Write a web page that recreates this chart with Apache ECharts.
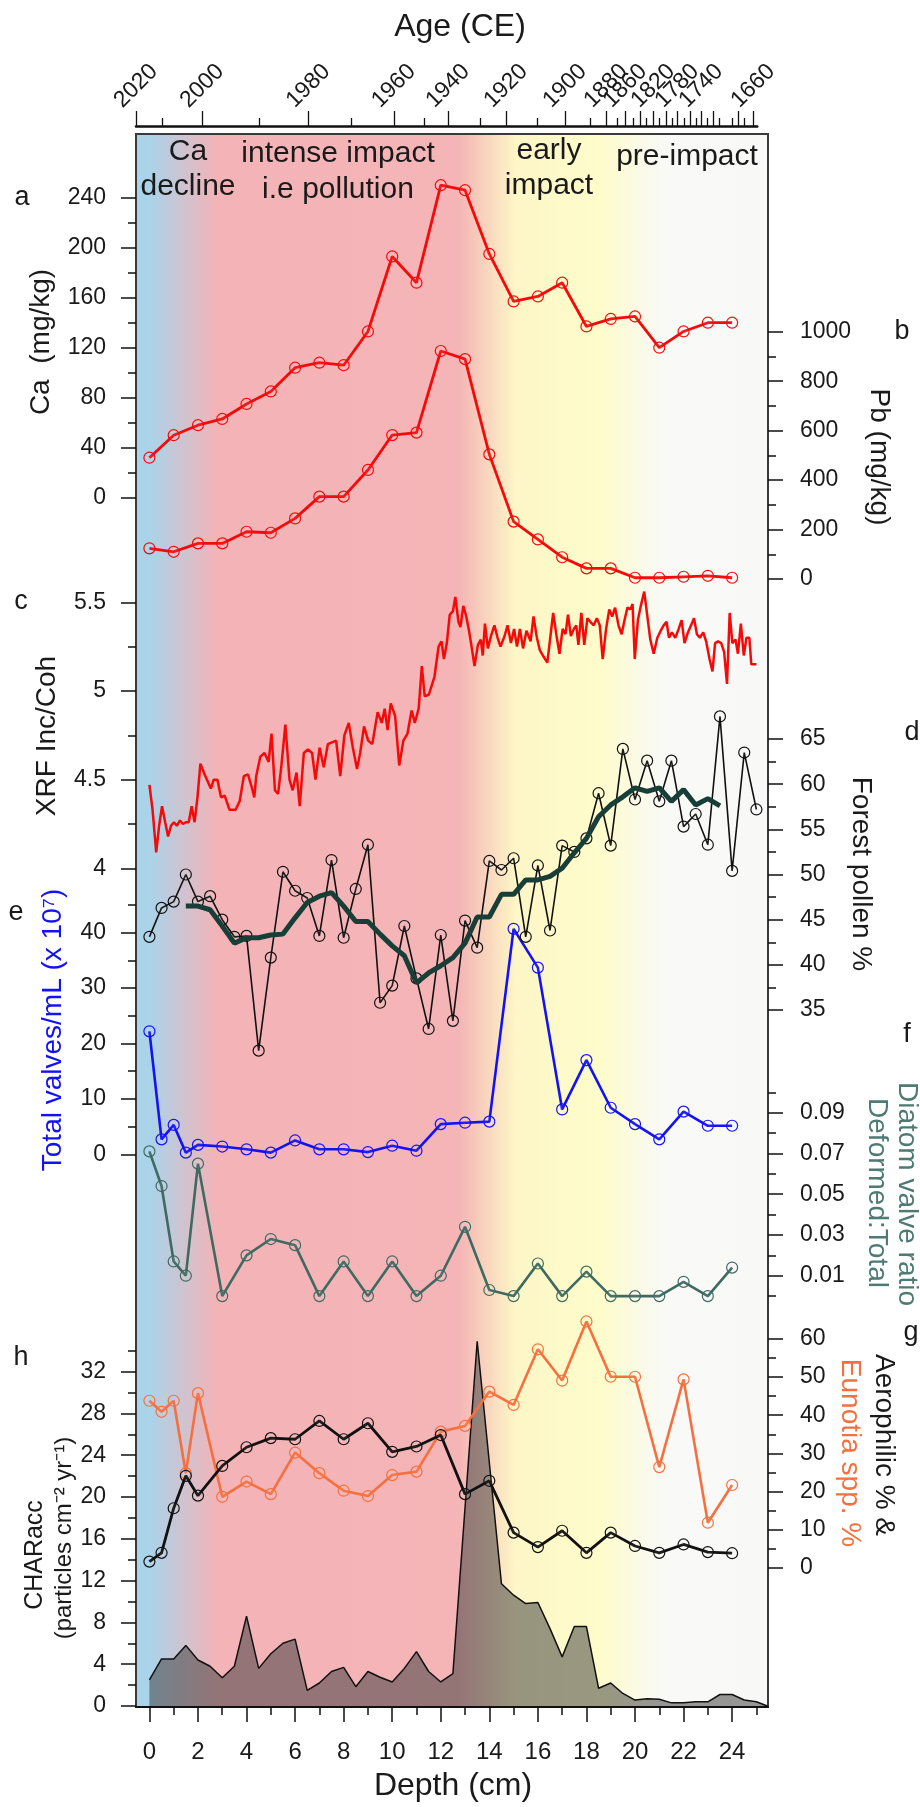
<!DOCTYPE html>
<html><head><meta charset="utf-8">
<script src="https://cdn.jsdelivr.net/npm/echarts@6/dist/echarts.min.js"></script>
<style>html,body{margin:0;padding:0;background:#fff}#c{width:920px;height:1807px}</style>
</head><body><div id="c"></div>
<script>
// ---------------- DATA ----------------
const depthInt = [0,1,2,3,4,5,6,7,8,9,10,11,12,13,14,15,16,17,18,19,20,21,22,23,24];
const caValues = [32,50,58,63,75,85,104,108,106,133,193,172,250,246,195,157,161,172,137,143,145,120,133,140,140];
const pbValues = [124,110,144,144,191,187,245,333,333,441,582,592,922,889,504,232,160,88,43,43,5,5,9,13,5];

const xrfDepth = [0.0,0.13,0.28,0.4,0.52,0.65,0.77,0.89,1.01,1.13,1.26,1.38,1.5,1.62,1.74,1.86,1.98,2.1,2.27,2.53,2.65,2.8,2.95,3.1,3.3,3.55,3.72,3.89,4.06,4.23,4.32,4.4,4.57,4.74,4.91,5.03,5.17,5.3,5.43,5.6,5.77,5.9,6.06,6.19,6.36,6.53,6.7,6.84,7.01,7.18,7.35,7.52,7.69,7.86,8.03,8.21,8.38,8.55,8.68,8.84,9.01,9.18,9.4,9.57,9.69,9.81,9.94,10.12,10.29,10.46,10.63,10.8,10.93,11.09,11.22,11.34,11.51,11.74,11.91,12.03,12.13,12.25,12.37,12.5,12.6,12.73,12.81,12.93,13.05,13.15,13.27,13.39,13.53,13.65,13.73,13.82,13.94,14.07,14.21,14.34,14.46,14.63,14.75,14.89,15.02,15.14,15.26,15.39,15.53,15.7,15.82,15.96,16.08,16.25,16.39,16.51,16.63,16.77,16.89,17.02,17.14,17.24,17.36,17.48,17.58,17.67,17.79,17.91,18.04,18.16,18.3,18.43,18.55,18.67,18.81,18.94,19.06,19.18,19.32,19.45,19.57,19.69,19.81,19.9,19.99,20.12,20.24,20.38,20.5,20.63,20.77,20.92,21.06,21.18,21.3,21.4,21.52,21.66,21.8,21.92,22.04,22.18,22.31,22.43,22.55,22.67,22.81,22.93,23.07,23.19,23.3,23.42,23.55,23.67,23.79,23.9,24.01,24.14,24.24,24.36,24.48,24.59,24.71,24.79,25.0];
const xrfValue = [4.47,4.33,4.09,4.24,4.35,4.26,4.18,4.24,4.26,4.24,4.27,4.25,4.26,4.26,4.35,4.26,4.40,4.59,4.53,4.45,4.50,4.50,4.40,4.41,4.33,4.33,4.38,4.52,4.53,4.45,4.40,4.52,4.63,4.65,4.60,4.76,4.44,4.42,4.57,4.81,4.50,4.44,4.54,4.35,4.65,4.67,4.65,4.50,4.68,4.57,4.70,4.71,4.72,4.52,4.75,4.82,4.68,4.56,4.65,4.80,4.72,4.70,4.88,4.82,4.90,4.78,4.93,4.86,4.58,4.72,4.76,4.89,4.82,4.90,5.14,4.97,4.98,5.08,5.25,5.28,5.18,5.27,5.43,5.45,5.53,5.39,5.36,5.48,5.42,5.35,5.25,5.14,5.26,5.29,5.20,5.38,5.24,5.31,5.37,5.30,5.25,5.31,5.37,5.27,5.35,5.25,5.35,5.24,5.34,5.28,5.42,5.30,5.23,5.19,5.16,5.30,5.44,5.31,5.21,5.35,5.32,5.43,5.31,5.35,5.37,5.26,5.44,5.26,5.41,5.39,5.37,5.41,5.37,5.18,5.35,5.46,5.42,5.47,5.37,5.32,5.40,5.47,5.46,5.49,5.18,5.40,5.48,5.56,5.43,5.29,5.21,5.30,5.34,5.37,5.39,5.30,5.33,5.30,5.35,5.40,5.27,5.33,5.37,5.41,5.32,5.30,5.33,5.28,5.18,5.11,5.27,5.28,5.27,5.22,5.04,5.44,5.27,5.29,5.21,5.38,5.20,5.30,5.30,5.15,5.15];

const pollenDepth = [0,0.5,1,1.5,2,2.5,3,3.5,4,4.5,5,5.5,6,6.5,7,7.5,8,8.5,9,9.5,10,10.5,11,11.5,12,12.5,13,13.5,14,14.5,15,15.5,16,16.5,17,17.5,18,18.5,19,19.5,20,20.5,21,21.5,22,22.5,23,23.5,24,24.5,25];
const forestPollen = [43.1,46.3,47.0,50.0,47.0,47.6,45.0,43.1,43.2,30.5,40.8,50.3,48.2,47.4,43.2,51.6,43.0,48.4,53.3,35.8,37.7,44.3,38.5,32.9,43.3,33.8,44.9,41.9,51.5,50.5,51.8,43.1,51.0,43.8,53.2,52.5,54.0,59.0,53.2,63.9,58.3,62.6,58.1,62.6,55.3,56.7,53.3,67.5,50.4,63.5,57.2];
const smoothDepth = [1.5,2,2.5,3,3.5,4,4.5,5,5.5,6,6.5,7,7.5,8,8.5,9,9.5,10,10.5,11,11.5,12,12.5,13,13.5,14,14.5,15,15.5,16,16.5,17,17.5,18,18.5,19,19.5,20,20.5,21,21.5,22,22.5,23,23.5];
const forestPollenSmooth = [46.5,46.5,46.1,44.3,42.4,43.0,43.0,43.3,43.4,45.2,46.9,47.6,48.0,46.5,44.8,44.8,43.4,42.1,41.0,38.0,39.1,39.9,40.8,42.4,45.3,45.3,47.8,47.8,49.4,49.4,49.8,50.7,52.4,54.0,56.4,57.7,58.6,59.6,59.2,59.6,58.1,59.4,57.7,58.4,57.6];

const diatomDepth = [0,0.5,1,1.5,2,3,4,5,6,7,8,9,10,11,12,13,14,15,16,17,18,19,20,21,22,23,24];
const totalValves = [22.2,2.7,5.3,0.3,1.7,1.4,0.9,0.3,2.5,0.9,0.9,0.4,1.55,0.65,5.45,5.7,5.9,40.7,33.7,8.1,17.0,8.4,5.45,2.7,7.7,5.15,5.15];
const deformedRatio = [0.071,0.054,0.017,0.010,0.065,0.000,0.020,0.028,0.025,0.000,0.017,0.000,0.017,0.000,0.010,0.034,0.003,0.000,0.016,0.000,0.012,0.000,0.000,0.000,0.007,0.000,0.014];
const aerophilic = [1.6,3.9,15.6,24.1,18.9,26.7,31.6,34.0,33.7,38.5,33.7,37.9,30.4,31.8,34.8,19.3,22.8,9.2,5.4,9.7,3.9,9.2,5.7,3.9,6.1,4.1,3.8];
const eunotia = [43.8,40.9,43.8,24.8,45.8,18.6,22.6,19.3,30.2,24.8,20.2,18.8,24.3,25.2,35.7,37.2,46.2,42.7,57.3,49.1,64.6,50.1,50.1,26.4,49.4,11.8,21.7];

const charDepth = [0,0.5,1,1.5,2,2.5,3,3.5,4,4.5,5,5.5,6,6.5,7,7.5,8,8.5,9,9.5,10,10.5,11,11.5,12,12.5,13.5,14.5,15,15.5,16,16.5,17,17.5,18,18.5,19,19.5,20,20.5,21,21.5,22,22.5,23,23.5,24,24.5,25,25.45];
const charAcc = [2.5,4.5,4.5,5.8,4.4,3.8,2.7,3.8,8.6,3.6,5.0,6.0,6.4,1.5,2.2,3.3,3.7,1.85,3.3,2.75,2.3,3.6,5.2,3.3,2.3,3.1,34.9,11.7,10.6,9.8,9.9,7.4,4.7,7.6,7.6,1.7,2.2,1.2,0.57,0.7,0.65,0.3,0.3,0.4,0.4,1.1,1.1,0.57,0.4,0];

// Age model (top axis)
const ageYears = [2020,2010,2000,1990,1980,1970,1960,1950,1940,1930,1920,1910,1900,1890,1880,1870,1860,1850,1840,1830,1820,1810,1800,1790,1780,1770,1760,1750,1740,1730,1720,1710,1700,1690,1680,1670,1660];
const ageDepths = [-0.552,0.53,2.18,4.53,6.55,8.33,10.07,11.33,12.30,13.62,14.69,15.98,17.12,18.15,18.81,19.27,19.60,19.93,20.21,20.45,20.75,21.00,21.28,21.52,21.74,22.02,22.27,22.51,22.73,22.98,23.22,23.47,23.72,23.99,24.24,24.52,24.87];
const ageLabelYears = [2020,2000,1980,1960,1940,1920,1900,1880,1860,1820,1780,1740,1700,1660];

// Tick labels
const depthTickLabels = [0,2,4,6,8,10,12,14,16,18,20,22,24];
const depthMinorTicks = [1,3,5,7,9,11,13,15,17,19,21,23,25];
const caTicks = [0,40,80,120,160,200,240];
const pbTicks = [0,200,400,600,800,1000];
const xrfTicks = [4,4.5,5,5.5];
const pollenTicks = [35,40,45,50,55,60,65];
const valvesTicks = [0,10,20,30,40];
const ratioTicks = [0.01,0.03,0.05,0.07,0.09];
const aeroTicks = [0,10,20,30,40,50,60];
const charTicks = [0,4,8,12,16,20,24,28,32];

// ---------------- CHART ----------------
const FONT = '"Liberation Sans", Arial, Helvetica, sans-serif';
const X_MIN = -0.552, X_MAX = 25.478;
const PL = 136, PW = 632;
const TXT = '#1a1a1a';

const grids = [], xAxes = [], yAxes = [], series = [];
function addGrid(o){ grids.push(Object.assign({left:PL, width:PW, containLabel:false}, o)); return grids.length-1; }

// main box grid
const g0 = addGrid({top:134, height:1573, show:true, borderColor:'#3a3a3a', borderWidth:2,
  backgroundColor:{type:'linear',x:0,y:0,x2:1,y2:0,colorStops:[
    {offset:0,color:'#a8d4eb'},{offset:0.025,color:'#abd3e9'},{offset:0.13,color:'#f4b3b6'},
    {offset:0.51,color:'#f5b4b6'},{offset:0.60,color:'#fdf6c6'},{offset:0.735,color:'#fefccb'},
    {offset:0.83,color:'#f9f9f6'},{offset:1,color:'#f8f8f8'}]}});
xAxes.push({type:'value', gridIndex:g0, position:'bottom', min:X_MIN, max:X_MAX,
  splitLine:{show:false}, axisLine:{show:true,onZero:false,lineStyle:{color:'#111',width:2}},
  axisTick:{show:true, customValues:depthTickLabels, length:15, lineStyle:{color:'#111',width:1.5}},
  axisLabel:{show:true, customValues:depthTickLabels, margin:33, fontSize:24, color:TXT, fontFamily:FONT}});
xAxes.push({type:'value', gridIndex:g0, position:'bottom', min:X_MIN, max:X_MAX,
  splitLine:{show:false}, axisLine:{show:false,onZero:false},
  axisTick:{show:true, customValues:depthMinorTicks, length:8, lineStyle:{color:'#111',width:1.5}},
  axisLabel:{show:false}});
yAxes.push({type:'value', gridIndex:g0, min:0, max:1, show:false});

// top age axis
const gTop = addGrid({top:126, height:8, left:136, width:621.3});
const ageMajor = ageDepths.filter((d,i)=>ageYears[i]%20===0);
const ageMinor = ageDepths.filter((d,i)=>ageYears[i]%20!==0);
const ageLabelDepths = ageLabelYears.map(y=>ageDepths[ageYears.indexOf(y)]);
xAxes.push({type:'value', gridIndex:gTop, position:'top', min:-0.552, max:25.04,
  splitLine:{show:false}, axisLine:{show:true,onZero:false,lineStyle:{color:'#111',width:2.5}},
  axisTick:{show:true, customValues:ageMajor, length:15, lineStyle:{color:'#111',width:1.3}},
  axisLabel:{show:true, customValues:ageLabelDepths, rotate:-45, align:'center', verticalAlign:'middle',
    margin:40, fontSize:23, color:TXT, fontFamily:FONT, showMinLabel:true, showMaxLabel:true, hideOverlap:false,
    formatter:function(v){let b=0,bd=1e9;ageLabelDepths.forEach((d,i)=>{const e=Math.abs(d-v);if(e<bd){bd=e;b=i;}});return String(ageLabelYears[b]);}}});
xAxes.push({type:'value', gridIndex:gTop, position:'top', min:-0.552, max:25.04,
  splitLine:{show:false}, axisLine:{show:false,onZero:false},
  axisTick:{show:true, customValues:ageMinor, length:8, lineStyle:{color:'#111',width:1.3}}, axisLabel:{show:false}});
yAxes.push({type:'value', gridIndex:gTop, min:0, max:1, show:false});

function addPanel(p){
  const gi = addGrid({top:p.top, height:p.height});
  xAxes.push({type:'value', gridIndex:gi, min:X_MIN, max:X_MAX, show:false});
  const xi = xAxes.length-1;
  const common = {type:'value', gridIndex:gi, position:p.pos, min:p.min, max:p.max,
    splitLine:{show:false}, axisLine:{show:false,onZero:false}};
  yAxes.push(Object.assign({}, common, {
    axisTick:{show:true, customValues:p.majors, length:15, lineStyle:{color:'#111',width:1.5}},
    axisLabel:{show:true, customValues:p.majors, margin:p.pos==='left'?30:32, fontSize:23, color:TXT, fontFamily:FONT,
      showMinLabel:true, showMaxLabel:true, formatter:p.fmt || (v=>String(v))}}));
  const yi = yAxes.length-1;
  yAxes.push(Object.assign({}, common, {
    axisTick:{show:true, customValues:p.minors, length:8, lineStyle:{color:'#111',width:1.5}},
    axisLabel:{show:false}}));
  return {xi, yi};
}
function pairs(xs, ys){ return xs.map((x,i)=>[x, ys[i]]); }
function mids(ticks){ const s=ticks[1]-ticks[0]; return ticks.map(t=>+(t+s/2).toFixed(4)); }
function lineS(ax, data, color, width, withSym, z){
  return {type:'line', xAxisIndex:ax.xi, yAxisIndex:ax.yi, data, clip:false, silent:true, z:z||2,
    symbol: withSym?'circle':'none', showSymbol:!!withSym, symbolSize:11,
    lineStyle:{color, width}, itemStyle:{color:'rgba(255,255,255,0.05)', borderColor:color, borderWidth:1.2},
    emphasis:{disabled:true}, animation:false};
}

const axA = addPanel({top:197.7, height:300, min:0, max:240, pos:'left', majors:caTicks, minors:mids(caTicks).slice(0,-1)});
const axB = addPanel({top:331.7, height:247.3, min:0, max:1000, pos:'right', majors:pbTicks, minors:mids(pbTicks).slice(0,-1)});
const axC = addPanel({top:602.3, height:266, min:4, max:5.5, pos:'left', majors:xrfTicks, minors:mids(xrfTicks).slice(0,-1)});
const axD = addPanel({top:739, height:271, min:35, max:65, pos:'right', majors:pollenTicks, minors:mids(pollenTicks).slice(0,-1)});
const axE = addPanel({top:905, height:249.3, min:0, max:45, pos:'left', majors:valvesTicks, minors:mids(valvesTicks)});
const axF = addPanel({top:1092.3, height:203.8, min:0, max:0.10, pos:'right', majors:ratioTicks,
  minors:[0,0.02,0.04,0.06,0.08,0.10], fmt:v=>v.toFixed(2)});
const axG = addPanel({top:1339, height:228.7, min:0, max:60, pos:'right', majors:aeroTicks, minors:mids(aeroTicks).slice(0,-1)});
const axH = addPanel({top:1350.7, height:355.3, min:0, max:34, pos:'left', majors:charTicks, minors:mids(charTicks).map(v=>v-4).concat([34]).filter(v=>v>0)});

const RED = '#f50a0a';
series.push({type:'line', xAxisIndex:axH.xi, yAxisIndex:axH.yi, data:pairs(charDepth, charAcc), clip:false, silent:true,
  symbol:'none', lineStyle:{color:'#111', width:1.5}, areaStyle:{color:'rgba(58,58,58,0.74)', origin:'start'}, z:1, animation:false});
series.push(lineS(axC, pairs(xrfDepth, xrfValue), RED, 2.5, false, 2));
series.push(lineS(axA, pairs(depthInt, caValues), RED, 2.8, true, 3));
series.push(lineS(axB, pairs(depthInt, pbValues), RED, 2.8, true, 3));
series.push(lineS(axD, pairs(pollenDepth, forestPollen), '#111', 1.6, true, 3));
series.push(lineS(axD, pairs(smoothDepth, forestPollenSmooth), '#173f37', 5, false, 4));
series.push(lineS(axE, pairs(diatomDepth, totalValves), '#1212f5', 2.6, true, 3));
series.push(lineS(axF, pairs(diatomDepth, deformedRatio), '#3e6a62', 2.6, true, 3));
series.push(lineS(axG, pairs(diatomDepth, eunotia), '#f5703e', 2.6, true, 3));
series.push(lineS(axG, pairs(diatomDepth, aerophilic), '#111', 2.8, true, 4));

// ---------------- TEXT ----------------
function txt(text, x, y, o){
  o = o || {};
  return {type:'text', x, y, rotation:o.rot||0, z:100, silent:true,
    style:{text, fill:o.color||TXT, fontSize:o.size||28, fontFamily:FONT, align:o.align||'center',
      verticalAlign:'middle', lineHeight:o.lh||34}};
}
const R90 = Math.PI/2;
const graphics = [
  txt('Age (CE)', 460, 27, {size:32}),
  txt('Depth (cm)', 453, 1786, {size:32}),
  txt('Ca\ndecline', 188, 169, {size:30, lh:35}),
  txt('intense impact\ni.e pollution', 338, 172, {size:30, lh:36}),
  txt('early\nimpact', 549, 168, {size:30, lh:35}),
  txt('pre-impact', 687, 157, {size:30}),
  txt('a', 22, 198, {size:27}), txt('b', 902, 332, {size:27}), txt('c', 21, 602, {size:27}),
  txt('d', 912, 733, {size:27}), txt('e', 16, 913, {size:27}), txt('f', 907, 1035, {size:27}),
  txt('g', 911, 1333, {size:27}), txt('h', 21, 1358, {size:27}),
  txt('Ca  (mg/kg)', 41, 342, {rot:R90}),
  txt('Pb (mg/kg)', 879, 457, {rot:-R90}),
  txt('XRF Inc/Coh', 47, 736, {rot:R90}),
  txt('Forest pollen %', 861, 874, {rot:-R90}),
  txt('Total valves/mL (x 10\u2077)', 53, 1030, {rot:R90, color:'#1212f5'}),
  txt('Diatom valve ratio', 907, 1194, {rot:-R90, color:'#4d7a72'}),
  txt('Deformed:Total', 877, 1193, {rot:-R90, color:'#4d7a72'}),
  txt('Aerophilic % &', 884, 1445, {rot:-R90}),
  txt('Eunotia spp. %', 850, 1453, {rot:-R90, color:'#f5703e'}),
  txt('CHARacc', 35, 1555, {rot:R90, size:25}),
  txt('(particles cm\u207B\u00B2 yr\u207B\u00B9)', 64, 1538, {rot:R90, size:24})
];

const chart = echarts.init(document.getElementById('c'), null, {renderer:'canvas'});
chart.setOption({animation:false, backgroundColor:'#ffffff', grid:grids, xAxis:xAxes, yAxis:yAxes, series, graphic:graphics});
</script></body></html>
